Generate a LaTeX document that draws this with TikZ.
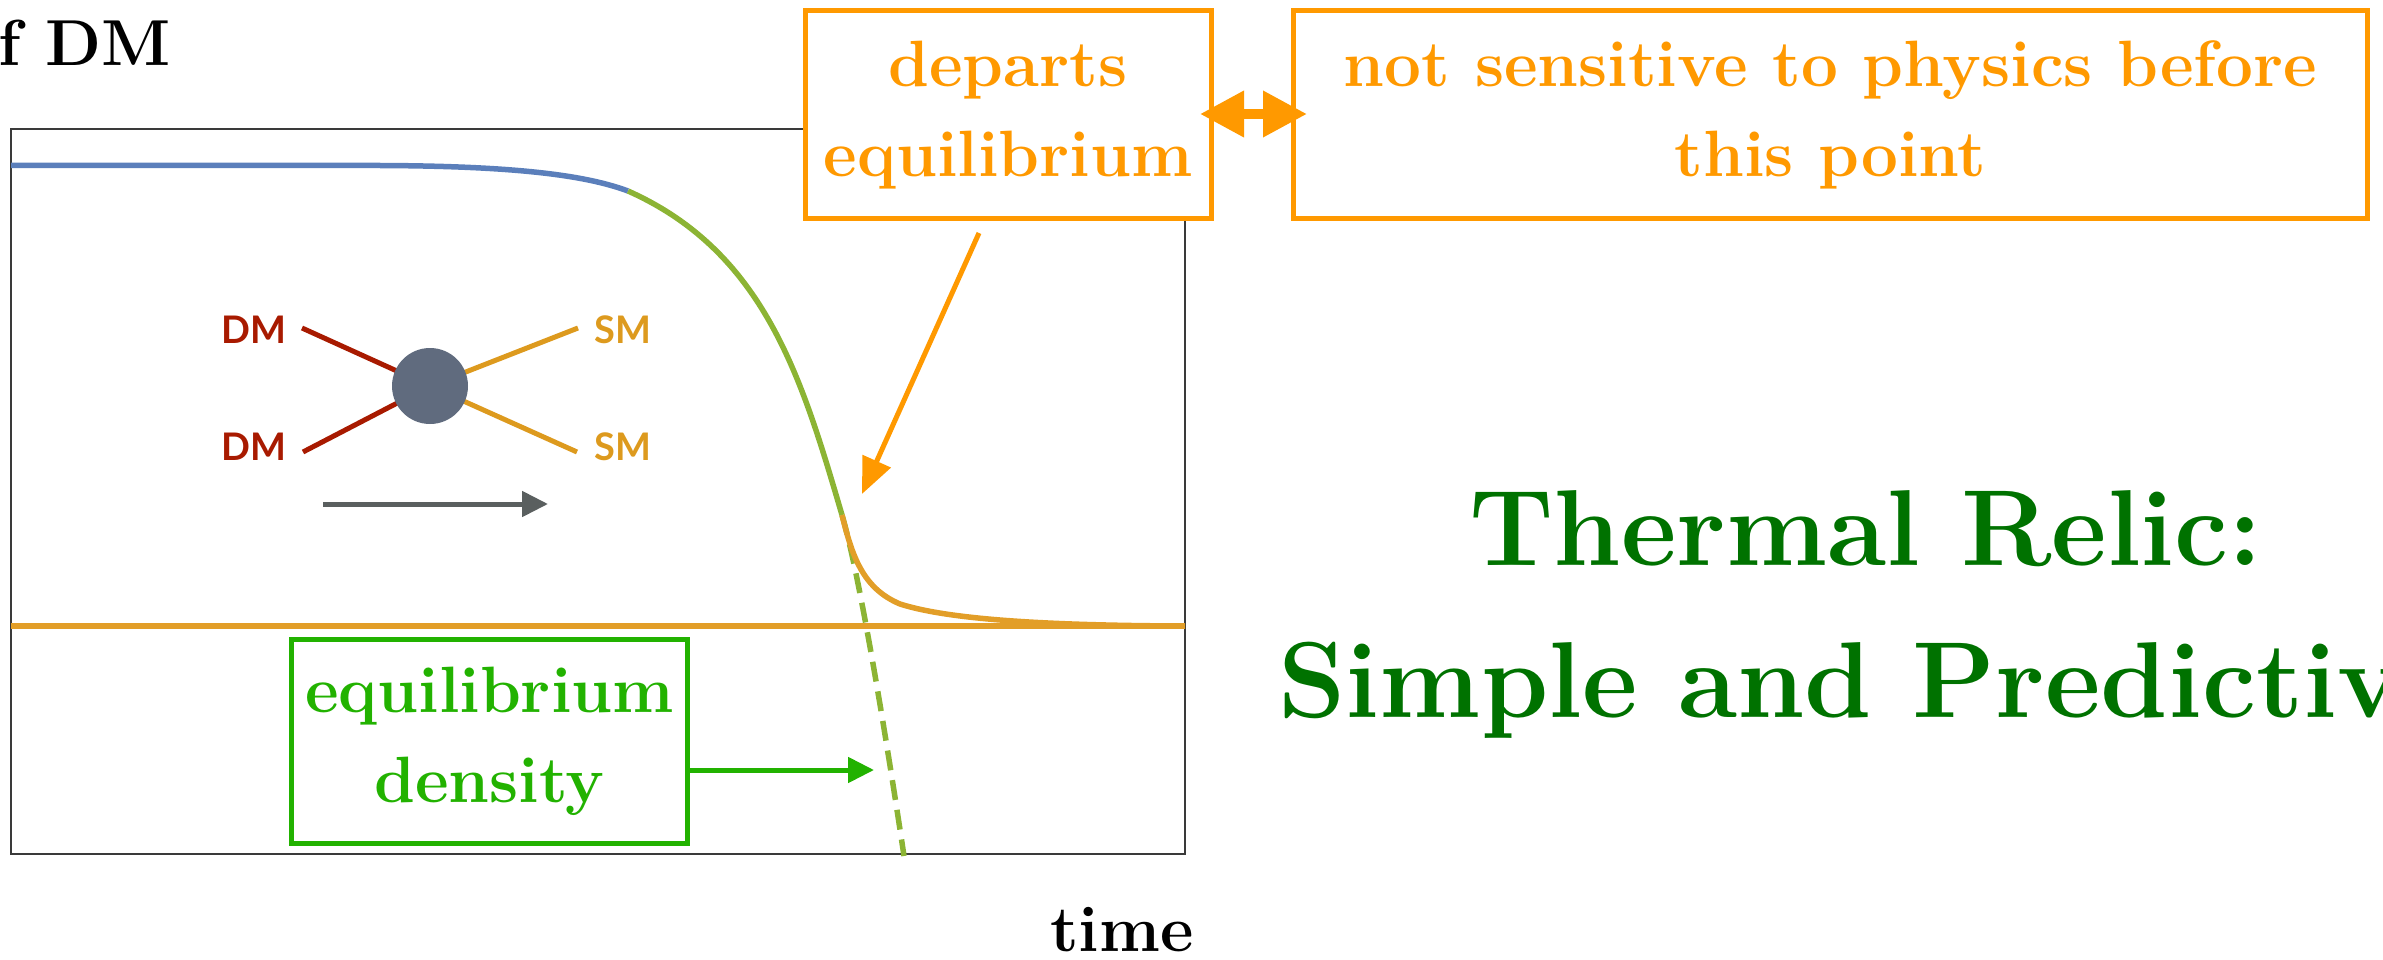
\documentclass[tikz,border=0pt]{standalone}
\usepackage{fontspec}
\newfontfamily\gillfont{Lato}
\usetikzlibrary{arrows.meta}
\definecolor{frameC}{RGB}{58,58,58}
\definecolor{blueC}{RGB}{91,127,187}
\definecolor{greenC}{RGB}{140,180,52}
\definecolor{orangeC}{RGB}{226,158,40}
\definecolor{boxOrange}{RGB}{255,153,0}
\definecolor{boxGreen}{RGB}{34,178,0}
\definecolor{titleGreen}{RGB}{0,114,0}
\definecolor{dmRed}{RGB}{168,26,0}
\definecolor{smOrange}{RGB}{221,154,30}
\definecolor{blobC}{RGB}{96,107,126}
\definecolor{arrowGray}{RGB}{90,95,95}
\tikzset{
  curve/.style={line width=5.5pt},
  labtext/.style={font=\fontsize{65}{90}\selectfont\bfseries, inner sep=0pt},
  boxnode/.style={draw, line width=5pt, fill=white, align=center, inner sep=0pt,
     font=\fontsize{65.5}{90}\selectfont\bfseries},
  feyn/.style={font=\gillfont\bfseries\fontsize{38}{40}\selectfont, inner sep=0pt},
  leg/.style={line width=5pt},
}
\begin{document}
\begin{tikzpicture}[x=1pt,y=-1pt]
\useasboundingbox (0,0) rectangle (2383,960);
% frame
\draw[frameC, line width=2pt] (11,129) rectangle (1185,854);
% axis labels
\node[labtext, anchor=base east] (ylab) at (171,66) {f DM};
\node[labtext, anchor=base] (xlab) at (1122,951) {time};
% equilibrium line
\draw[orangeC, curve] (11,626) -- (1185,626);
% dashed continuation
\draw[greenC, curve, dash pattern=on 20pt off 10pt] (842,515) .. controls (862,583) and (892,776) .. (904,856);
% abundance curve
\draw[blueC, curve] (11,165.5) -- (380,165.5) .. controls (500,166) and (580,173) .. (628,191);
\draw[greenC, curve] (628,191) .. controls (765,252) and (802,379) .. (842,515);
\draw[orangeC, curve] (842,515) .. controls (852,555) and (862,588) .. (900,604) .. controls (950,620) and (1050,625.5) .. (1185,626);
% Feynman diagram
\coordinate (bc) at (430,386);
\coordinate (dm1) at (302,328);
\coordinate (dm2) at (303,452);
\coordinate (sm1) at (578,328);
\coordinate (sm2) at (577,452);
\draw[dmRed, leg] (dm1) -- (bc);
\draw[dmRed, leg] (dm2) -- (bc);
\draw[smOrange, leg] (sm1) -- (bc);
\draw[smOrange, leg] (sm2) -- (bc);
\node[circle, fill=blobC, minimum size=76pt, inner sep=0pt] (blob) at (bc) {};
\node[feyn, text=dmRed, anchor=base east] (dmA) at (287,343) {DM};
\node[feyn, text=dmRed, anchor=base east] (dmB) at (287,460) {DM};
\node[feyn, text=smOrange, anchor=base west] (smA) at (594,343) {SM};
\node[feyn, text=smOrange, anchor=base west] (smB) at (594,460) {SM};
\coordinate (gaA) at (323,504);
\coordinate (gaB) at (548,504);
\draw[arrowGray, line width=5pt, -{Triangle[length=26pt,width=25pt]}] (gaA) -- (gaB);
% boxes
\node[boxnode, draw=boxOrange, text=boxOrange, minimum width=406pt, minimum height=208pt] (dep) at (1008,115) {departs\\equilibrium};
\node[boxnode, draw=boxOrange, text=boxOrange, minimum width=1074pt, minimum height=208pt] (notsens) at (1830.5,115) {not sensitive to physics before\\this point};
\node[boxnode, draw=boxGreen, text=boxGreen, minimum width=396pt, minimum height=204pt] (eqd) at (489.5,741.5) {equilibrium\\density};
% arrows
\coordinate (dA) at (1200,114);
\coordinate (dB) at (1307,114);
\draw[boxOrange, line width=10pt, {Triangle[length=44pt,width=44pt]}-{Triangle[length=44pt,width=44pt]}] (dA) -- (dB);
\coordinate (depA) at (979,233);
\coordinate (depB) at (862,494);
\draw[boxOrange, line width=5pt, -{Triangle[length=36pt,width=30pt]}] (depA) -- (depB);
\coordinate (eqB) at (874,770);
\draw[boxGreen, line width=5pt, -{Triangle[length=26pt,width=25pt]}] ([yshift=-28.5pt]eqd.east) -- (eqB);
% title
\node[font=\fontsize{108}{152}\selectfont\bfseries, text=titleGreen, align=center, anchor=north, inner sep=0pt] (title) at (1866,490) {Thermal Relic:\\Simple and Predictive};
\end{tikzpicture}
\end{document}
